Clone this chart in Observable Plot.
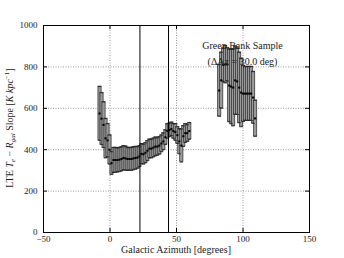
<!DOCTYPE html>
<html><head><meta charset="utf-8">
<script src="https://cdn.jsdelivr.net/npm/d3@7"></script>
<script src="https://cdn.jsdelivr.net/npm/@observablehq/plot@0.6"></script>
<style>body{margin:0;background:#fff}</style>
</head><body><div id="chart"></div>
<script>
const azimuth = [-7.5,-6,-4.5,-3,-1.5,0,1.5,3,4.5,6,7.5,9,10.5,12,13.5,15,16.5,18,19.5,21,22.5,24,25.5,27,28.5,30,31.5,33,34.5,36,37.5,39,40.5,42,43.5,45,46.5,48,49.5,51,52.5,54,55.5,57,58.5,60,
  82.5,84,85.5,87,88.5,90,91.5,93,94.5,96,97.5,99,100.5,102,103.5,105,106.5,108,109.5];
const slope = [575,550,520,455,445,400,335,350,350,350,352,355,360,358,355,355,355,358,360,362,368,380,378,385,395,405,405,410,415,415,420,430,440,460,490,495,500,490,485,470,440,420,465,480,480,490,
  686,735,810,812,812,710,705,700,735,730,700,676,671,671,671,671,671,652,551];
const slopeErr = [130,125,110,95,80,70,55,60,60,58,58,58,58,58,55,55,55,55,55,52,50,48,48,48,48,45,45,45,45,42,42,40,40,35,35,32,32,35,40,40,60,80,50,45,40,40,
  125,135,80,90,80,175,180,185,165,160,170,165,135,130,130,130,130,125,87];
const xTicks = [-50,0,50,100,150];
const yTicks = [0,200,400,600,800,1000];
const boundaries = [22.5,44];
const sampleLabel = "Green Bank Sample\n(ΔAz = 30.0 deg)";

const rows = azimuth.map((a,i)=>({az:a, s:slope[i], e:slopeErr[i]}));
const fmt = d => d < 0 ? "\u2212" + Math.abs(d) : String(d);

const chart = Plot.plot({
  width: 344, height: 258,
  marginLeft: 43, marginRight: 35, marginTop: 25, marginBottom: 26,
  x: {domain: [-50,150]},
  y: {domain: [0,1000]},
  style: {fontFamily: "'Liberation Serif', serif", fontSize: "9px", color: "#222", background: "#fff"},
  marks: [
    Plot.gridX(xTicks, {stroke: "#999", strokeOpacity: 1, strokeDasharray: "1,1.5"}),
    Plot.gridY(yTicks, {stroke: "#999", strokeOpacity: 1, strokeDasharray: "1,1.5"}),
    Plot.rect(rows, {x1: d => d.az - 1.2, x2: d => d.az + 1.2, y1: d => d.s - d.e, y2: d => d.s + d.e, fill: "#9a9a9a", stroke: "#2a2a2a", strokeWidth: 0.7}),
    Plot.ruleY(rows, {y: d => d.s + d.e, x1: d => d.az - 1.3, x2: d => d.az + 1.3, stroke: "#222", strokeWidth: 0.8}),
    Plot.ruleY(rows, {y: d => d.s - d.e, x1: d => d.az - 1.3, x2: d => d.az + 1.3, stroke: "#222", strokeWidth: 0.8}),
    Plot.ruleY(rows, {y: "s", x1: d => d.az - 0.8, x2: d => d.az + 0.8, stroke: "#000", strokeWidth: 2}),
    Plot.ruleX(boundaries, {stroke: "#000", strokeWidth: 1}),
    Plot.ruleX(xTicks, {y1: 0, y2: 20, stroke: "#000"}),
    Plot.ruleX(xTicks, {y1: 980, y2: 1000, stroke: "#000"}),
    Plot.ruleY(yTicks, {x1: -50, x2: -47, stroke: "#000"}),
    Plot.ruleY(yTicks, {x1: 147, x2: 150, stroke: "#000"}),
    Plot.frame({stroke: "#000", strokeWidth: 1}),
    Plot.axisX(xTicks, {tickSize: 0, tickPadding: 3, tickFormat: fmt, label: null}),
    Plot.axisY(yTicks, {tickSize: 0, tickPadding: 6, tickFormat: fmt, label: null}),
    Plot.text([sampleLabel], {frameAnchor: "top", dx: 66, dy: 12, lineAnchor: "top", lineHeight: 1.6, fontSize: 10, fill: "#222"})
  ]
});
document.getElementById("chart").appendChild(chart);

const svg = d3.select(chart);
svg.append("text").attr("x", 176).attr("y", 253).attr("text-anchor", "middle")
  .attr("font-family", "'Liberation Serif', serif").attr("font-size", 10).attr("fill", "#222")
  .text("Galactic Azimuth [degrees]");
const yl = svg.append("text").attr("transform", "translate(13,128) rotate(-90)").attr("text-anchor", "middle")
  .attr("font-family", "'Liberation Serif', serif").attr("font-size", 10).attr("fill", "#222");
yl.append("tspan").text("LTE ");
yl.append("tspan").attr("font-style", "italic").text("T");
yl.append("tspan").attr("font-style", "italic").attr("font-size", 7).attr("dy", 2).text("e");
yl.append("tspan").attr("dy", -2).text(" \u2212 ");
yl.append("tspan").attr("font-style", "italic").text("R");
yl.append("tspan").attr("font-style", "italic").attr("font-size", 7).attr("dy", 2).text("gal");
yl.append("tspan").attr("dy", -2).text(" Slope [");
yl.append("tspan").attr("font-style", "italic").text("K kpc");
yl.append("tspan").attr("font-size", 7).attr("dy", -4).text("\u22121");
yl.append("tspan").attr("dy", 4).text("]");
</script>
</body></html>
